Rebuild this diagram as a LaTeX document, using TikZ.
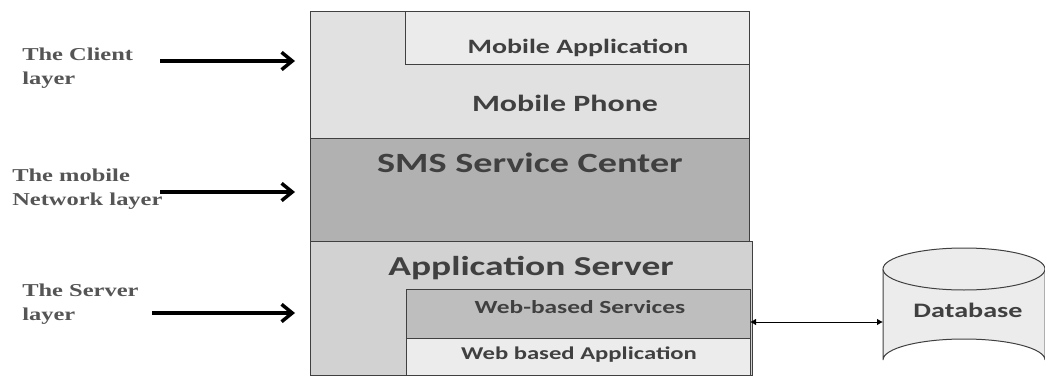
\documentclass[tikz,border=0pt]{standalone}
\usepackage{fontspec}
\usepackage{tikz}
\usetikzlibrary{arrows.meta}
\newfontfamily\blkfont[FakeStretch=1.37]{Carlito}
\newfontfamily\lblfont[FakeStretch=1.35]{Liberation Serif}
\definecolor{txtgray}{RGB}{64,64,64}
\definecolor{lblgray}{RGB}{85,85,85}
\definecolor{phonegray}{RGB}{225,225,225}
\definecolor{appgray}{RGB}{235,235,235}
\definecolor{smsgray}{RGB}{177,177,177}
\definecolor{srvgray}{RGB}{210,210,210}
\definecolor{wsgray}{RGB}{190,190,190}
\definecolor{wagray}{RGB}{236,236,236}
\tikzset{
  blk/.style={draw=black!75, line width=0.75},
  blktext/.style={inner sep=0.75pt, text=txtgray, font=\blkfont\bfseries},
  lbltext/.style={anchor=north west, inner sep=0pt, align=left, text=lblgray,
    font=\lblfont\bfseries\fontsize{13.6}{18}\selectfont},
  layerarrow/.style={line width=2.6, -{Straight Barb[length=8pt,width=13pt]}},
  linkarrow/.style={line width=0.75, {Latex[length=4.5pt,width=5pt]}-{Latex[length=4.5pt,width=5pt]}}
}

\begin{document}
\begin{tikzpicture}[x=0.75pt,y=0.75pt,yscale=-1,xscale=1]
\useasboundingbox (0,0) rectangle (1045,381);

%Shape: Rectangle [client layer]
\draw [blk, fill=phonegray] (310,12) rectangle (749,139) ;
\draw [blk, fill=appgray] (405,12) rectangle (749,65) ;
%Shape: Rectangle [network layer]
\draw [blk, fill=smsgray] (310,139) rectangle (749,241) ;
%Shape: Rectangle [server layer]
\draw [blk, fill=srvgray] (310,241) rectangle (752,375) ;
\draw [blk, fill=wsgray] (406,289) rectangle (750,338) ;
\draw [blk, fill=wagray] (406,338) rectangle (750,375) ;

%Shape: Can [database]
\draw [blk, fill=wagray] (883,269) -- (883,360) arc[start angle=180, end angle=360, x radius=81, y radius=21] -- (1045,269) ;
\draw [blk, fill=wagray] (964,269) ellipse [x radius=81, y radius=21] ;

% Text Node
\node [blktext, font=\blkfont\bfseries\fontsize{15.3}{18}\selectfont] (mobapp) at (578,48) {Mobile Application};
% Text Node
\node [blktext, font=\blkfont\bfseries\fontsize{17.5}{20}\selectfont] (phone) at (565,103) {Mobile Phone};
% Text Node
\node [blktext, font=\blkfont\bfseries\fontsize{20.9}{24}\selectfont] (smsc) at (530,163) {SMS Service Center};
% Text Node
\node [blktext, font=\blkfont\bfseries\fontsize{20.5}{24}\selectfont] (appsrv) at (531,268) {Application Server};
% Text Node
\node [blktext, font=\blkfont\bfseries\fontsize{13.9}{16}\selectfont] (websrv) at (580,307) {Web-based Services};
% Text Node
\node [blktext, font=\blkfont\bfseries\fontsize{13.5}{16}\selectfont] (webapp) at (579,355) {Web based Application};
% Text Node
\node [blktext, font=\blkfont\bfseries\fontsize{15.4}{18}\selectfont] (db) at (968,310) {Database};

% Text Node
\node [lbltext] (client) at (22,48) {The Client\\layer};
% Text Node
\node [lbltext] (network) at (12,169) {The mobile\\Network layer};
% Text Node
\node [lbltext] (server) at (22,284) {The Server\\layer};

%Straight Lines
\coordinate (clientend) at (295,61);
\coordinate (networkend) at (295,192);
\coordinate (serverend) at (295,313);
\draw [layerarrow] (160,61) -- (clientend) ;
\draw [layerarrow] (160,192) -- (networkend) ;
\draw [layerarrow] (152,313) -- (serverend) ;

%Straight Lines [services to database]
\coordinate (websrvE) at (750,322);
\coordinate (dbW) at (883,322);
\draw [linkarrow] (websrvE) -- (dbW) ;

\end{tikzpicture}
\end{document}
